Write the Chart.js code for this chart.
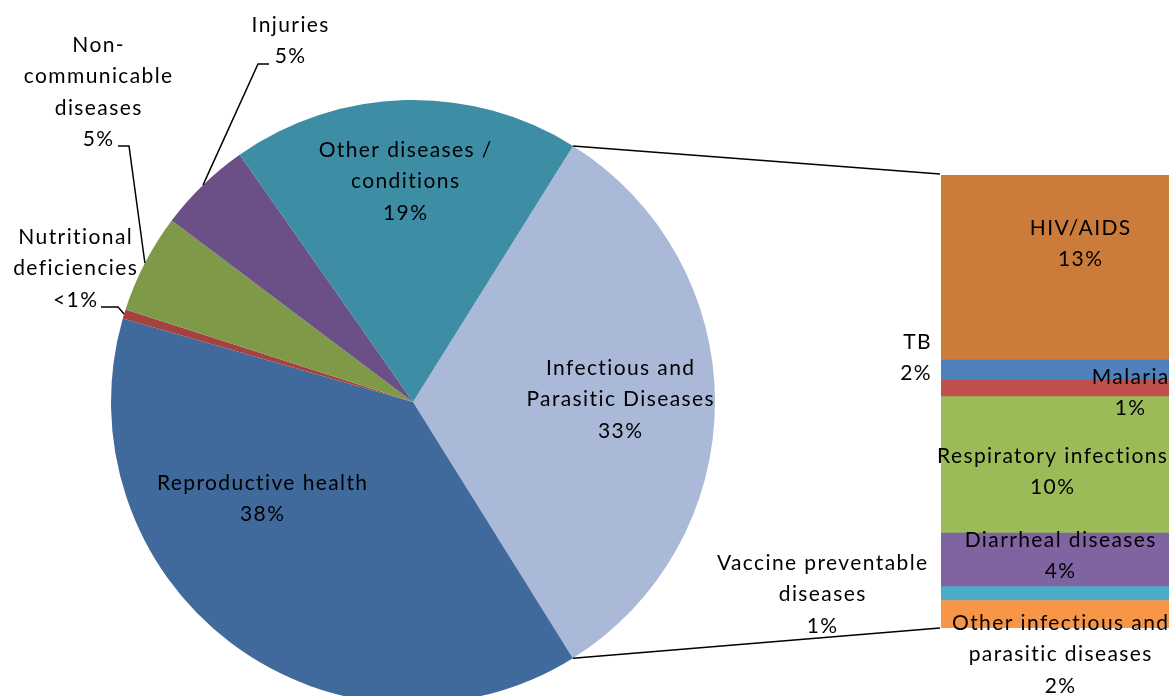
<!DOCTYPE html>
<html>
<head>
<meta charset="utf-8">
<script src="https://cdn.jsdelivr.net/npm/chart.js@4.4.0/dist/chart.umd.min.js"></script>
<style>
  html, body { margin: 0; padding: 0; background: #fff; }
  #wrap { position: relative; width: 1171px; height: 696px; overflow: hidden; }
  #wrap canvas { position: absolute; left: 0; top: 0; }
</style>
</head>
<body>
<div id="wrap">
  <canvas id="pieChart" width="1171" height="720"></canvas>
  <canvas id="barChart" width="1171" height="720"></canvas>
</div>
<script>
// pie: share of burden by category (clockwise from the Infectious slice)
var pieCategories = ['Infectious and Parasitic Diseases', 'Reproductive health', 'Nutritional deficiencies',
  'Non-communicable diseases', 'Injuries', 'Other diseases / conditions'];
var pieValues = [32.2, 38.3, 0.5, 5.3, 5.0, 18.6];
var pieLabels = ['33%', '38%', '<1%', '5%', '5%', '19%'];
var pieColors = ['#AAB9D8', '#416A9C', '#A5413E', '#7E9A48', '#6A5086', '#3D8DA5'];

// bar: breakdown of Infectious and Parasitic Diseases (bottom to top)
var barCategories = ['Other infectious and parasitic diseases', 'Vaccine preventable diseases', 'Diarrheal diseases',
  'Respiratory infections', 'Malaria', 'TB', 'HIV/AIDS'];
var barValues = [2.0, 1.0, 3.9, 9.9, 1.2, 1.5, 13.4];
var barLabels = ['2%', '1%', '4%', '10%', '1%', '2%', '13%'];
var barColors = ['#F79646', '#4BACC6', '#8064A2', '#9BBB59', '#C0504D', '#4F81BD', '#CB7B3A'];

var FONT = '21px Lato, "Open Sans", sans-serif';

function drawLines(ctx, lines, x, y, align) {
  ctx.textAlign = align || 'center';
  // letterSpacing adds a trailing gap, nudge centred text back by half of it
  var dx = (align === 'right') ? 0 : 0.7;
  lines.forEach(function (t, i) { ctx.fillText(t, x + dx, y + i * 31.5); });
}

function arcPoint(arc, ang) {
  return { x: arc.x + arc.outerRadius * Math.cos(ang), y: arc.y + arc.outerRadius * Math.sin(ang) };
}

function setText(ctx) {
  ctx.font = FONT;
  ctx.fillStyle = '#000';
  ctx.textBaseline = 'middle';
  ctx.letterSpacing = '1.4px';
}

var pieLabelPlugin = {
  id: 'pieLabels',
  afterDraw: function (chart) {
    var ctx = chart.ctx;
    var arcs = chart.getDatasetMeta(0).data;
    ctx.save();
    setText(ctx);
    drawLines(ctx, ['Infectious and', 'Parasitic Diseases', pieLabels[0]], 620, 368);
    drawLines(ctx, ['Reproductive health', pieLabels[1]], 262, 483);
    drawLines(ctx, ['Nutritional', 'deficiencies', pieLabels[2]], 75, 237);
    drawLines(ctx, ['Non-', 'communicable', 'diseases', pieLabels[3]], 98, 45);
    drawLines(ctx, ['Injuries', pieLabels[4]], 290, 25);
    drawLines(ctx, ['Other diseases /', 'conditions', pieLabels[5]], 405, 150);

    // leader lines for the small slices
    ctx.strokeStyle = '#000';
    ctx.lineWidth = 1.5;
    var leaders = [
      [2, [[118, 307], [101, 307]]],
      [3, [[129, 146], [118, 146]]],
      [4, [[258, 64], [269, 64]]]
    ];
    leaders.forEach(function (l) {
      var a = arcs[l[0]];
      var p = arcPoint(a, (a.startAngle + a.endAngle) / 2);
      ctx.beginPath();
      ctx.moveTo(p.x, p.y);
      l[1].forEach(function (q) { ctx.lineTo(q[0], q[1]); });
      ctx.stroke();
    });
    ctx.restore();
  }
};

var pieChart = new Chart(document.getElementById('pieChart'), {
  type: 'pie',
  data: {
    labels: pieCategories,
    datasets: [{ data: pieValues, backgroundColor: pieColors, borderWidth: 0 }]
  },
  options: {
    responsive: false,
    animation: false,
    rotation: 32,
    layout: { padding: { left: 111, top: 100, right: 456, bottom: 16 } },
    plugins: { legend: { display: false }, tooltip: { enabled: false } }
  },
  plugins: [pieLabelPlugin]
});

var barTotal = barValues.reduce(function (s, v) { return s + v; }, 0);

var barLabelPlugin = {
  id: 'barLabels',
  afterDraw: function (chart) {
    var ctx = chart.ctx;
    ctx.save();
    // connector lines from the Infectious slice to the bar
    var arc = pieChart.getDatasetMeta(0).data[0];
    var p1 = arcPoint(arc, arc.startAngle);
    var p2 = arcPoint(arc, arc.endAngle);
    var left = chart.chartArea.left;
    var yTop = chart.scales.y.getPixelForValue(barTotal);
    var yBot = chart.scales.y.getPixelForValue(0);
    ctx.strokeStyle = '#000';
    ctx.lineWidth = 1.5;
    ctx.beginPath();
    ctx.moveTo(p1.x, p1.y); ctx.lineTo(left - 1, yTop - 1);
    ctx.moveTo(p2.x, p2.y); ctx.lineTo(left - 1, yBot);
    ctx.stroke();

    setText(ctx);
    drawLines(ctx, ['HIV/AIDS', barLabels[6]], 1080, 228);
    drawLines(ctx, ['TB', barLabels[5]], 932, 342, 'right');
    drawLines(ctx, ['Malaria', barLabels[4]], 1130, 377);
    drawLines(ctx, ['Respiratory infections', barLabels[3]], 1052, 456);
    drawLines(ctx, ['Diarrheal diseases', barLabels[2]], 1060, 540);
    drawLines(ctx, ['Vaccine preventable', 'diseases', barLabels[1]], 822, 563);
    drawLines(ctx, ['Other infectious and', 'parasitic diseases', barLabels[0]], 1060, 623);
    ctx.restore();
  }
};

new Chart(document.getElementById('barChart'), {
  type: 'bar',
  data: {
    labels: ['Infectious and Parasitic Diseases'],
    datasets: barCategories.map(function (c, i) {
      return {
        label: c,
        data: [barValues[i]],
        backgroundColor: barColors[i],
        borderWidth: 0,
        barPercentage: 1,
        categoryPercentage: 1
      };
    })
  },
  options: {
    responsive: false,
    animation: false,
    layout: { padding: { left: 941, top: 175, right: 2, bottom: 92 } },
    scales: {
      x: { display: false, stacked: true },
      y: { display: false, stacked: true, min: 0, max: barTotal }
    },
    plugins: { legend: { display: false }, tooltip: { enabled: false } }
  },
  plugins: [barLabelPlugin]
});
</script>
</body>
</html>
